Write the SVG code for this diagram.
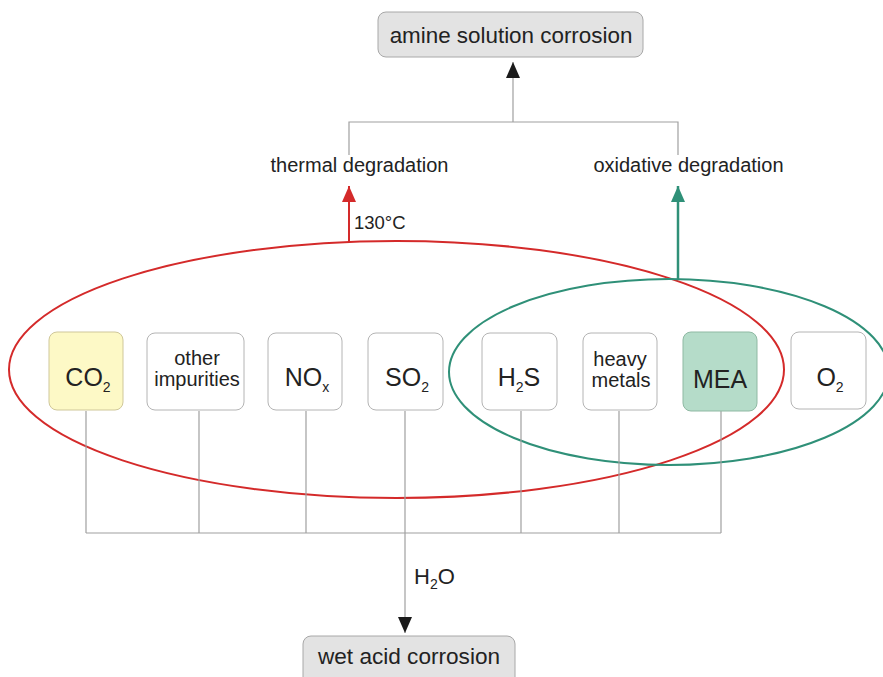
<svg xmlns="http://www.w3.org/2000/svg" width="883" height="677" viewBox="0 0 883 677">
<style>
text{font-family:"Liberation Sans",Arial,sans-serif;fill:#222;}
.box{fill:#fff;stroke:#b4b4b4;stroke-width:1;}
.gbox{fill:#e3e3e3;stroke:#a8a8a8;stroke-width:1;}
.conn{fill:none;stroke:#a0a0a0;stroke-width:1.2;}
.lbl{font-size:25px;text-anchor:middle;}
.sm{font-size:20px;text-anchor:middle;}
.sub{font-size:14px;}
</style>
<defs>
<marker id="ahk" viewBox="0 0 16 14" refX="16" refY="7" markerWidth="16" markerHeight="14" markerUnits="userSpaceOnUse" orient="auto"><path d="M0,0 L16,7 L0,14 z" fill="#1a1a1a"/></marker>
<marker id="ahr" viewBox="0 0 16 14" refX="16" refY="7" markerWidth="16" markerHeight="14" markerUnits="userSpaceOnUse" orient="auto"><path d="M0,0 L16,7 L0,14 z" fill="#d42a2a"/></marker>
<marker id="ahg" viewBox="0 0 16 14" refX="16" refY="7" markerWidth="16" markerHeight="14" markerUnits="userSpaceOnUse" orient="auto"><path d="M0,0 L16,7 L0,14 z" fill="#2f9078"/></marker>
</defs>

<g id="groups">
<ellipse cx="396.5" cy="369.5" rx="387.5" ry="128.5" fill="none" stroke="#d42a2a" stroke-width="2"/>
<ellipse cx="669" cy="372" rx="220" ry="93" fill="none" stroke="#2f9078" stroke-width="2"/>
</g>

<g id="connectors">
<path class="conn" d="M86,411 V533 M199,411 V533 M306,411 V533 M405,411 V533 M521,411 V533 M619,411 V533 M721,411 V533 M86,533 H721"/>
<path class="conn" d="M405,533 V633" marker-end="url(#ahk)"/>
<path class="conn" d="M349,155 V122 H678 V155 M513,122 V62" marker-end="url(#ahk)"/>
<path d="M349,242 V186" fill="none" stroke="#d42a2a" stroke-width="2" marker-end="url(#ahr)"/>
<path d="M678,280 V186" fill="none" stroke="#2f9078" stroke-width="2.5" marker-end="url(#ahg)"/>
<text x="354" y="229" font-size="18.5">130°C</text>
<text x="414" y="584" font-size="22">H<tspan class="sub" dy="5">2</tspan><tspan dy="-5">O</tspan></text>
</g>

<g id="amine-solution-corrosion">
<rect class="gbox" x="378" y="12" width="265" height="45" rx="8"/>
<text x="511" y="43" font-size="22.4" text-anchor="middle">amine solution corrosion</text>
</g>

<g id="thermal-degradation">
<text x="359.5" y="172" font-size="20" text-anchor="middle">thermal degradation</text>
</g>

<g id="oxidative-degradation">
<text x="688.5" y="172" font-size="20" text-anchor="middle">oxidative degradation</text>
</g>

<g id="co2">
<rect x="49" y="332" width="74" height="78" rx="8" fill="#fdf9c6" stroke="#cfc79a" stroke-width="1"/>
<text class="lbl" x="88" y="386">CO<tspan class="sub" dy="6">2</tspan></text>
</g>

<g id="other-impurities">
<rect class="box" x="147" y="333" width="97" height="77" rx="8"/>
<text class="sm" x="197" y="365">other</text>
<text class="sm" x="197" y="386">impurities</text>
</g>

<g id="nox">
<rect class="box" x="268" y="333" width="74" height="77" rx="8"/>
<text class="lbl" x="307" y="386">NO<tspan class="sub" dy="6">x</tspan></text>
</g>

<g id="so2">
<rect class="box" x="368" y="333" width="75" height="77" rx="8"/>
<text class="lbl" x="407" y="386">SO<tspan class="sub" dy="6">2</tspan></text>
</g>

<g id="h2s">
<rect class="box" x="482" y="333" width="75" height="77" rx="8"/>
<text class="lbl" x="519" y="386">H<tspan class="sub" dy="6">2</tspan><tspan dy="-6">S</tspan></text>
</g>

<g id="heavy-metals">
<rect class="box" x="583" y="333" width="74" height="77" rx="8"/>
<text class="sm" x="620" y="366">heavy</text>
<text class="sm" x="621" y="387">metals</text>
</g>

<g id="mea">
<rect x="683" y="332" width="74" height="79" rx="8" fill="#b5dcc9" stroke="#8fb9a3" stroke-width="1"/>
<text class="lbl" x="720" y="388" font-size="26">MEA</text>
</g>

<g id="o2">
<rect class="box" x="791" y="332" width="75" height="77" rx="8"/>
<text class="lbl" x="830" y="386">O<tspan class="sub" dy="6">2</tspan></text>
</g>

<g id="wet-acid-corrosion">
<rect class="gbox" x="303" y="636" width="212" height="50" rx="8"/>
<text x="409" y="664" font-size="22.6" text-anchor="middle">wet acid corrosion</text>
</g>
</svg>
